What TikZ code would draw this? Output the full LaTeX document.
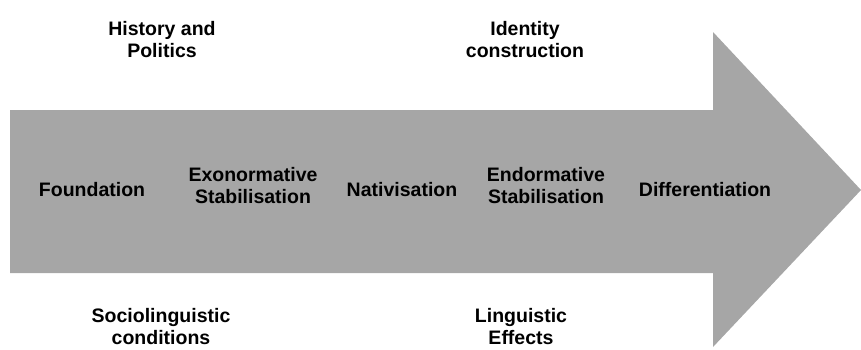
\documentclass[tikz,border=0pt]{standalone}
\usepackage{fontspec}
\setmainfont{Liberation Sans}
\definecolor{arrowgray}{HTML}{A6A6A6}
\begin{document}
\begin{tikzpicture}[x=1pt,y=-1pt,
  lbl/.style={align=center,inner sep=0pt,font=\fontsize{19.5}{22}\selectfont\bfseries}]
\useasboundingbox (0,0) rectangle (861,349);
\fill[arrowgray] (10,110) -- (713,110) -- (713,32) -- (861,190) -- (713,347) -- (713,273) -- (10,273) -- cycle;
\node[lbl] (hist) at (162,40) {History and\\Politics};
\node[lbl] (ident) at (525,40) {Identity\\construction};
\node[lbl] (found) at (92,190) {Foundation};
\node[lbl] (exo) at (253,186) {Exonormative\\Stabilisation};
\node[lbl] (nat) at (402,190) {Nativisation};
\node[lbl] (endo) at (546,186) {Endormative\\Stabilisation};
\node[lbl] (diff) at (705,190) {Differentiation};
\node[lbl] (socio) at (161,327) {Sociolinguistic\\conditions};
\node[lbl] (ling) at (521,327) {Linguistic\\Effects};
\end{tikzpicture}
\end{document}
